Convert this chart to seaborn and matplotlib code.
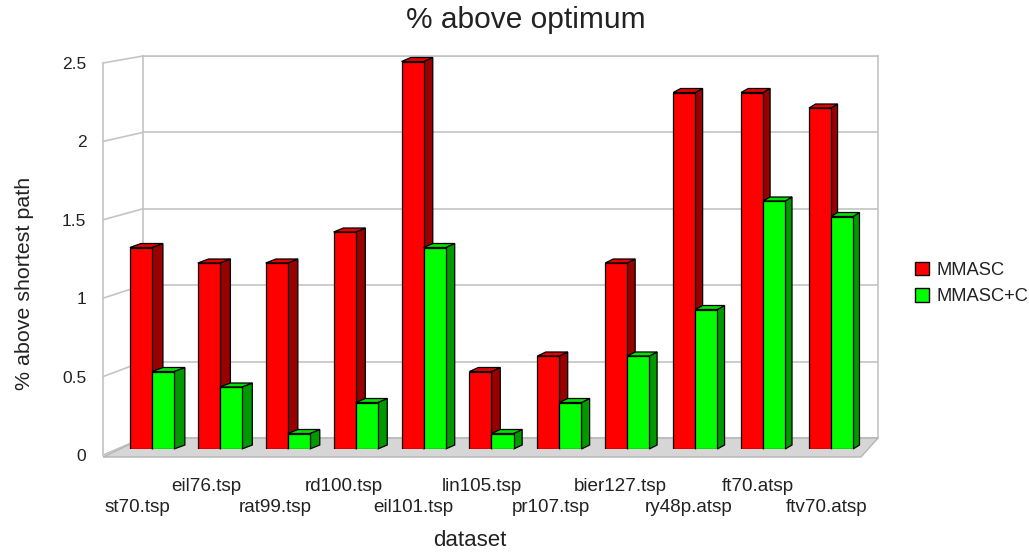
import numpy as np
import pandas as pd
import matplotlib
matplotlib.use("Agg")
import matplotlib.pyplot as plt
import seaborn as sns
from matplotlib.patches import Polygon, Patch
from matplotlib.lines import Line2D
from matplotlib.transforms import IdentityTransform, ScaledTranslation

# ---- data -------------------------------------------------------------
datasets = ["st70.tsp", "eil76.tsp", "rat99.tsp", "rd100.tsp", "eil101.tsp",
            "lin105.tsp", "pr107.tsp", "bier127.tsp", "ry48p.atsp",
            "ft70.atsp", "ftv70.atsp"]
mmasc = [1.3, 1.2, 1.2, 1.4, 2.5, 0.5, 0.6, 1.2, 2.3, 2.3, 2.2]
mmasc_c = [0.5, 0.4, 0.1, 0.3, 1.3, 0.1, 0.3, 0.6, 0.9, 1.6, 1.5]
series_names = ["MMASC", "MMASC+C"]
y_ticks = [0, 0.5, 1, 1.5, 2, 2.5]
y_tick_labels = ["0", "0.5", "1", "1.5", "2", "2.5"]

# ---- style ------------------------------------------------------------
front_colors = {"MMASC": "#ff0000", "MMASC+C": "#00ff00"}
side_colors = {"MMASC": "#990000", "MMASC+C": "#009900"}
top_colors = {"MMASC": "#e60000", "MMASC+C": "#00e000"}
grid_color = "#c4c4c4"
text_color = "#222222"

W, H = 1029, 552
sns.set_theme(style="white")
plt.rcParams["font.family"] = ["Liberation Sans", "DejaVu Sans"]

fig = plt.figure(figsize=(W / 100, H / 100), dpi=100)


def rect(left, top, right, bottom):
    """Axes rectangle from pixel edges measured from the top-left corner."""
    return [left / W, 1 - bottom / H, (right - left) / W, (bottom - top) / H]


def to_disp(x, y):
    return (x, H - y)


# ---- back wall with gridlines ------------------------------------------
ax_back = fig.add_axes(rect(143, 56, 878, 438))
ax_back.set_xlim(0, 1)
ax_back.set_ylim(0, 2.5)
ax_back.set_yticks(y_ticks)
ax_back.set_xticks([])
ax_back.tick_params(length=0, labelleft=False, labelbottom=False)
ax_back.grid(axis="y", color=grid_color, linewidth=1.2)
for name, sp in ax_back.spines.items():
    sp.set_color(grid_color)
    sp.set_linewidth(1.2)
ax_back.spines["bottom"].set_visible(False)

# ---- front plane: value axis + category labels ------------------------
ax_front = fig.add_axes(rect(103, 63, 861, 455))
ax_front.set_xlim(-0.5, len(datasets) - 0.5)
ax_front.set_ylim(0, 2.5)
ax_front.patch.set_visible(False)
for sp in ax_front.spines.values():
    sp.set_visible(False)
ax_front.set_yticks(y_ticks)
ax_front.set_yticklabels(y_tick_labels)
ax_front.set_xticks(range(len(datasets)))
ax_front.set_xticklabels(datasets)
ax_front.tick_params(axis="y", length=0, pad=12, labelsize=12.5,
                     labelcolor=text_color)
ax_front.tick_params(axis="x", length=0, pad=16.5, labelsize=13.6,
                     labelcolor=text_color)
# stagger the category names over two rows
row_shift = ScaledTranslation(0, -21 / 100, fig.dpi_scale_trans)
for i, lab in enumerate(ax_front.get_xticklabels()):
    if i % 2 == 0:
        lab.set_transform(lab.get_transform() + row_shift)

# left wall: slanted gridlines from the front edge to the back wall
wall_kw = dict(color=grid_color, linewidth=1.2, transform=IdentityTransform(),
               clip_on=False, zorder=0.5)
for v in y_ticks:
    fx, fy = ax_front.transData.transform((-0.5, v))
    bx, by = ax_back.transData.transform((0, v))
    ax_back.add_line(Line2D([fx, bx], [fy, by], **wall_kw))
fx0, fy0 = ax_front.transData.transform((-0.5, 0))
fx1, fy1 = ax_front.transData.transform((-0.5, 2.5))
ax_back.add_line(Line2D([fx0, fx1], [fy0, fy1], **wall_kw))

# floor
bx0, by0 = ax_back.transData.transform((0, 0))
bx1, _ = ax_back.transData.transform((1, 0))
floor = Polygon([to_disp(103, 457), to_disp(861, 457), (bx1, by0), (bx0, by0)],
                closed=True, facecolor="#d6d6d6", edgecolor="#b4b4b4",
                linewidth=1, transform=IdentityTransform(), clip_on=False,
                zorder=3)
ax_back.add_patch(floor)

# ---- bars -----------------------------------------------------------------
df = pd.DataFrame({
    "dataset": datasets * 2,
    "value": mmasc + mmasc_c,
    "series": [series_names[0]] * len(datasets) + [series_names[1]] * len(datasets),
})

ax = fig.add_axes(rect(118, 61.5, 865, 449))
sns.barplot(data=df, x="dataset", y="value", hue="series",
            order=datasets, hue_order=series_names, palette=front_colors,
            saturation=1, width=0.65, edgecolor="black", linewidth=0.9,
            legend=False, ax=ax)
ax.set_xlim(-0.5, len(datasets) - 0.5)
ax.set_ylim(0, 2.5)
ax.set_axis_off()


def depth_dx(x):
    # receding offset shrinks towards the right of the plot
    return 0.0066 * (1817 - x)


depth_dy = 4.0
bars = [p for p in ax.patches if p.get_width() > 0]
n = len(datasets)
for k, p in enumerate(bars):
    h_idx = k // n
    c_idx = k % n
    series = series_names[h_idx]
    base = 2 + c_idx * 0.1 + h_idx * 0.05
    p.set_zorder(base + 0.02)
    x, w, hgt = p.get_x(), p.get_width(), p.get_height()
    x0, y0 = ax.transData.transform((x, 0))
    x1, y1 = ax.transData.transform((x + w, hgt))
    d0, d1 = depth_dx(x0), depth_dx(x1)
    top = Polygon([(x0, y1), (x1, y1), (x1 + d1, y1 + depth_dy), (x0 + d0, y1 + depth_dy)],
                  closed=True, facecolor=top_colors[series], edgecolor="black",
                  linewidth=0.9, transform=IdentityTransform(), clip_on=False,
                  zorder=base + 0.01)
    side = Polygon([(x1, y0), (x1, y1), (x1 + d1, y1 + depth_dy), (x1 + d1, y0 + depth_dy)],
                   closed=True, facecolor=side_colors[series], edgecolor="black",
                   linewidth=0.9, transform=IdentityTransform(), clip_on=False,
                   zorder=base + 0.01)
    ax.add_patch(side)
    ax.add_patch(top)

# ---- titles and legend -------------------------------------------------
fig.text(526 / W, 1 - 20 / H, "% above optimum", ha="center", va="center",
         fontsize=21.5, color=text_color)
fig.text(470 / W, 1 - 541 / H, "dataset", ha="center", va="center",
         fontsize=16, color=text_color)
fig.text(25 / W, 1 - 283 / H, "% above shortest path", ha="center",
         va="center", rotation=90, fontsize=15.4, color=text_color)

handles = [Patch(facecolor=front_colors[s], edgecolor="black", linewidth=1)
           for s in series_names]
fig.legend(handles=handles, labels=series_names, loc="upper left",
           bbox_to_anchor=(915 / W, 1 - 262 / H), frameon=False,
           fontsize=13.2, handlelength=0.75, handleheight=0.75,
           handletextpad=0.4, labelspacing=0.5, borderpad=0,
           borderaxespad=0, labelcolor=text_color)

fig.savefig("out.png", dpi=100)
